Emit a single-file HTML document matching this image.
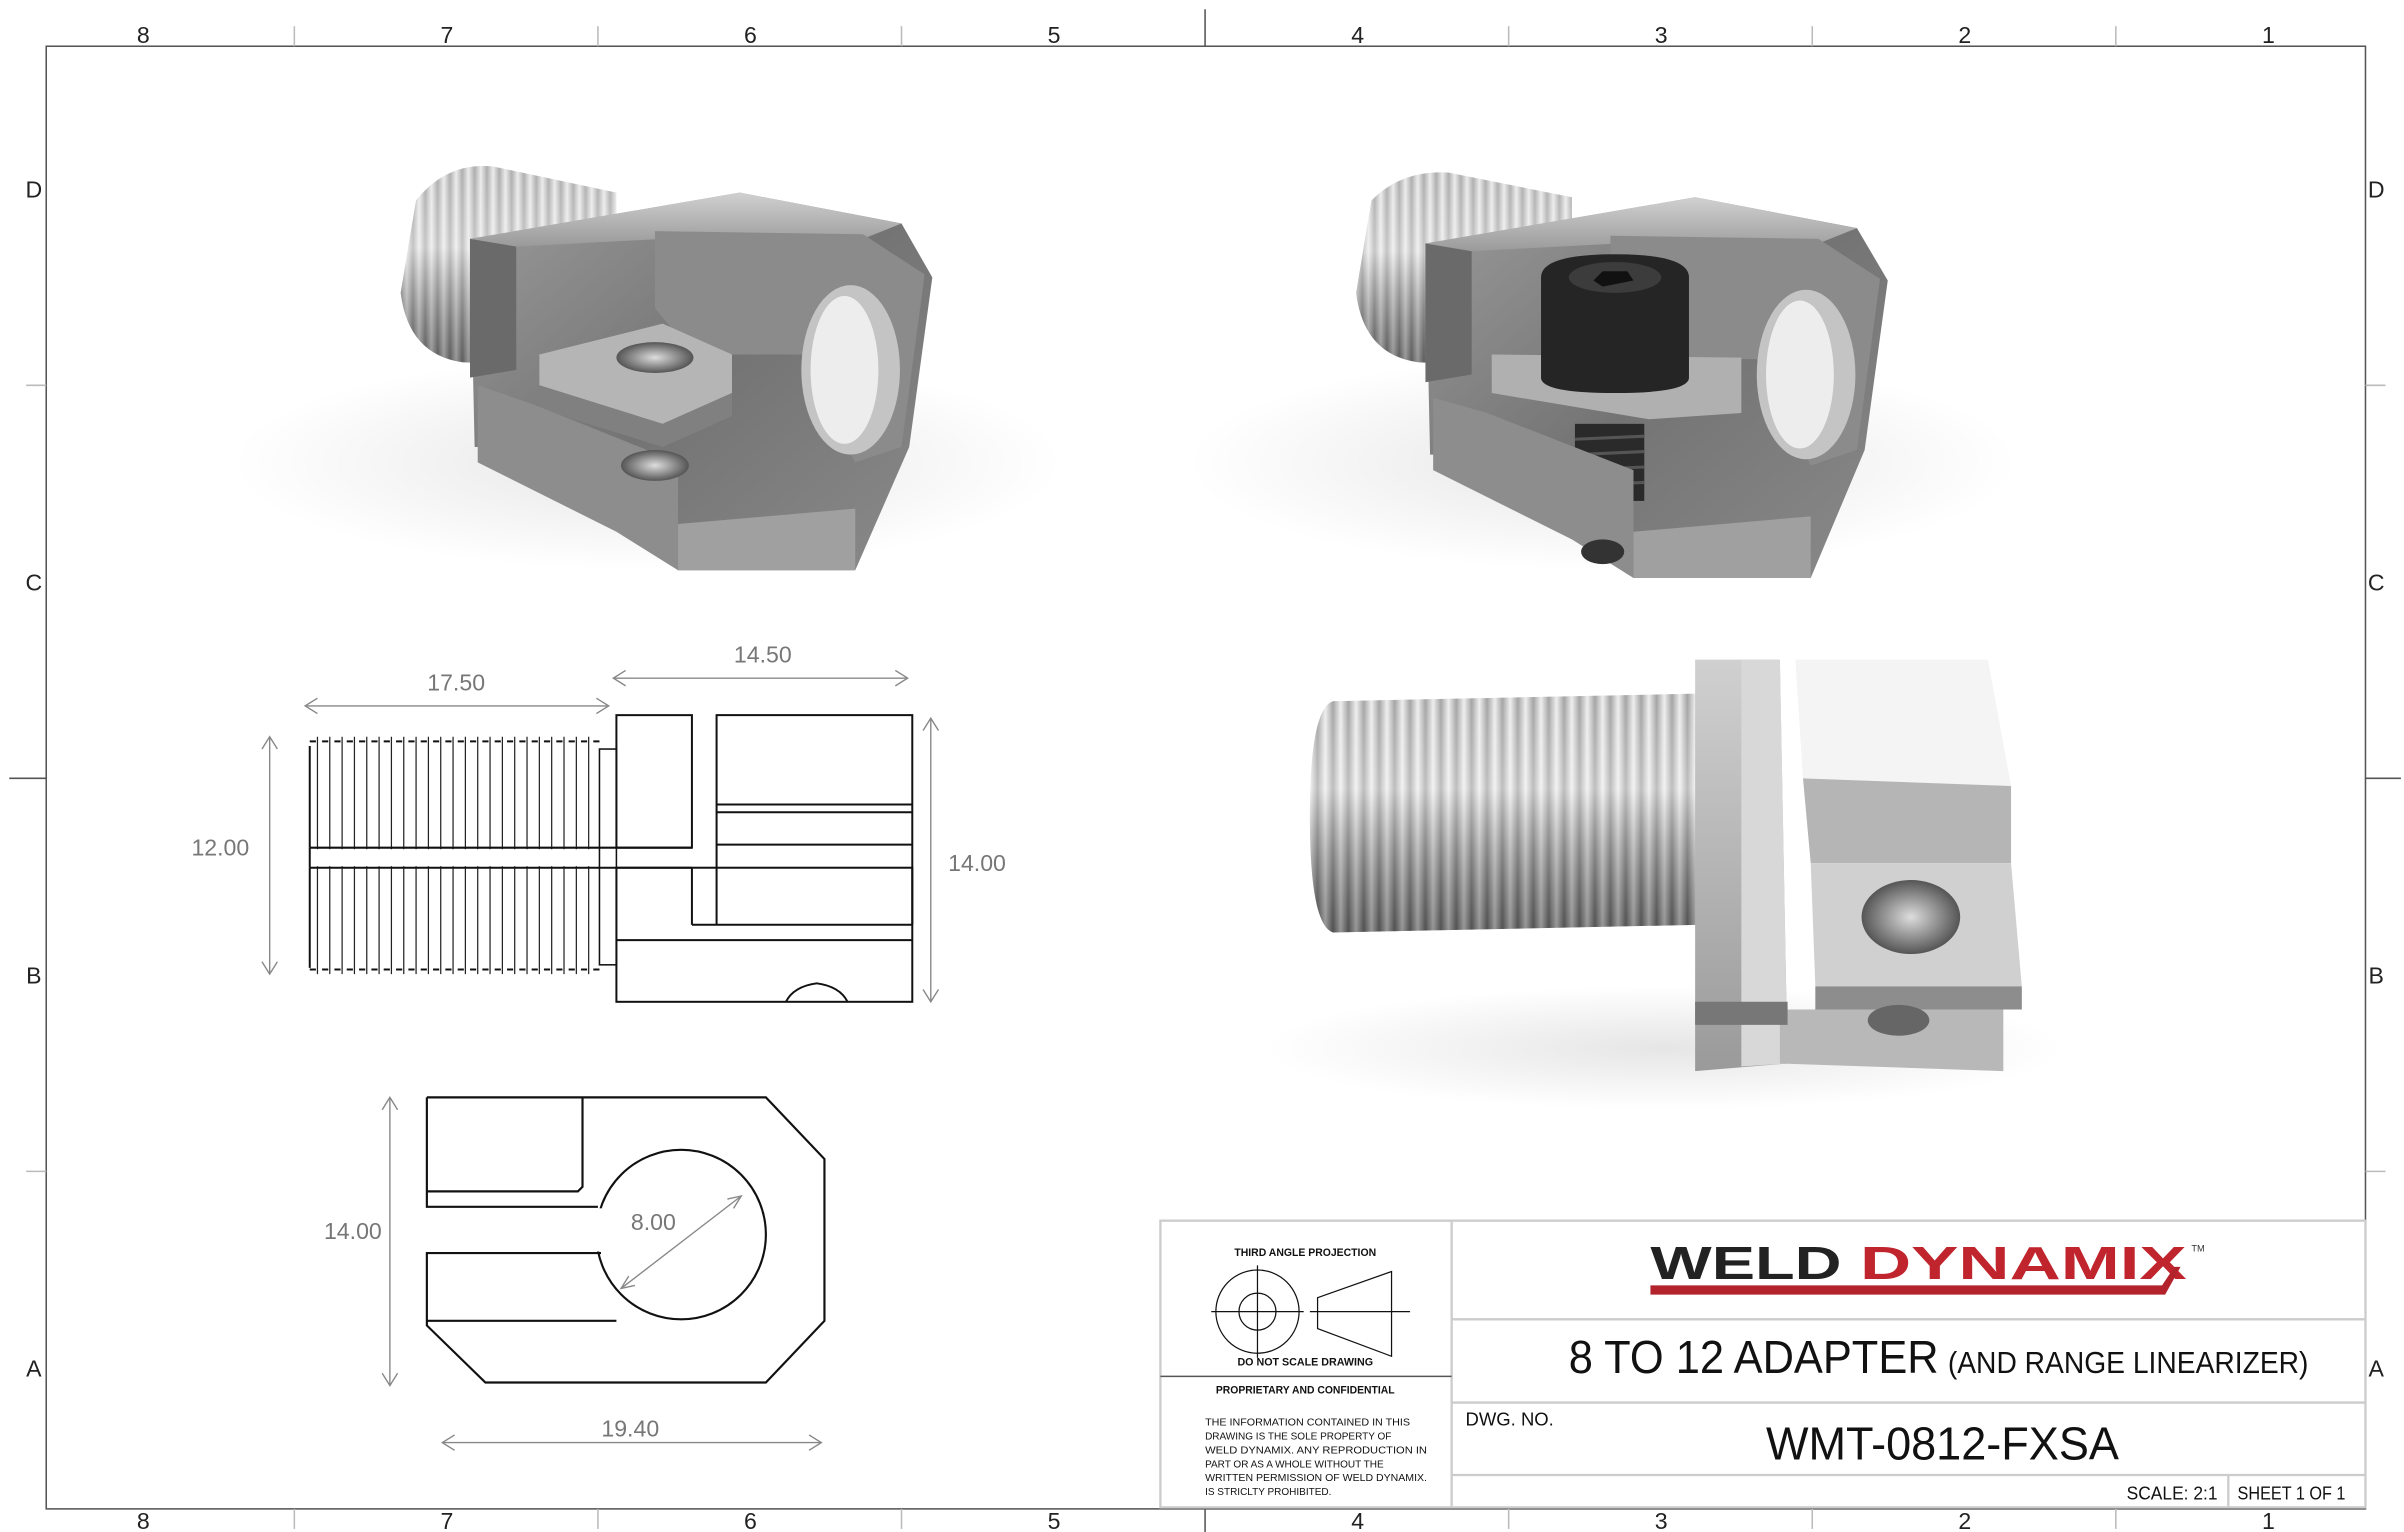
<!DOCTYPE html>
<html><head><meta charset="utf-8"><style>
html,body{margin:0;padding:0;background:#fff;}
svg{display:block;}
text{font-family:"Liberation Sans",sans-serif;}
</style></head><body>
<svg width="2404" height="1532" viewBox="0 0 1560 994" preserveAspectRatio="none" xmlns="http://www.w3.org/2000/svg">
<defs>
<linearGradient id="thr" x1="0" y1="0" x2="1" y2="0" spreadMethod="repeat" gradientUnits="userSpaceOnUse" gradientTransform="scale(8)">
<stop offset="0" stop-color="#e2e2e2"/><stop offset="0.5" stop-color="#8a8a8a"/><stop offset="1" stop-color="#e2e2e2"/></linearGradient>
<linearGradient id="thrv" x1="0" y1="0" x2="0" y2="1"><stop offset="0" stop-color="#fff" stop-opacity="0.3"/><stop offset="0.4" stop-color="#fff" stop-opacity="0.5"/><stop offset="1" stop-color="#000" stop-opacity="0.35"/></linearGradient>
<linearGradient id="met" x1="0" y1="0" x2="1" y2="1"><stop offset="0" stop-color="#9a9a9a"/><stop offset="0.5" stop-color="#747474"/><stop offset="1" stop-color="#8a8a8a"/></linearGradient>
<linearGradient id="metl" x1="0" y1="0" x2="0" y2="1"><stop offset="0" stop-color="#d0d0d0"/><stop offset="1" stop-color="#9a9a9a"/></linearGradient>
<radialGradient id="hole"><stop offset="0" stop-color="#ddd"/><stop offset="1" stop-color="#555"/></radialGradient>
<radialGradient id="shd"><stop offset="0" stop-color="#000" stop-opacity="0.10"/><stop offset="1" stop-color="#000" stop-opacity="0"/></radialGradient>
<linearGradient id="thr2" x1="0" y1="0" x2="1" y2="0" spreadMethod="repeat" gradientUnits="userSpaceOnUse" gradientTransform="scale(10)">
<stop offset="0" stop-color="#e6e6e6"/><stop offset="0.5" stop-color="#7c7c7c"/><stop offset="1" stop-color="#e6e6e6"/></linearGradient>
</defs>
<rect width="1560" height="994" fill="#fff"/>
<rect x="30" y="30" width="1505" height="949" fill="none" stroke="#555" stroke-width="1"/>
<g stroke="#bbb" stroke-width="1">
<line x1="191" y1="17" x2="191" y2="30"/><line x1="388" y1="17" x2="388" y2="30"/><line x1="585" y1="17" x2="585" y2="30"/><line x1="979" y1="17" x2="979" y2="30"/><line x1="1176" y1="17" x2="1176" y2="30"/><line x1="1373" y1="17" x2="1373" y2="30"/>
<line x1="191" y1="979" x2="191" y2="992"/><line x1="388" y1="979" x2="388" y2="992"/><line x1="585" y1="979" x2="585" y2="992"/><line x1="979" y1="979" x2="979" y2="992"/><line x1="1176" y1="979" x2="1176" y2="992"/><line x1="1373" y1="979" x2="1373" y2="992"/>
<line x1="17" y1="250" x2="30" y2="250"/><line x1="17" y1="760" x2="30" y2="760"/><line x1="1535" y1="250" x2="1548" y2="250"/><line x1="1535" y1="760" x2="1548" y2="760"/>
</g>
<g stroke="#555" stroke-width="1"><line x1="782" y1="6" x2="782" y2="30"/><line x1="782" y1="979" x2="782" y2="998"/><line x1="6" y1="505" x2="30" y2="505"/><line x1="1535" y1="505" x2="1558" y2="505"/></g>
<g font-size="15" fill="#222" text-anchor="middle">
<text x="93" y="28">8</text><text x="290" y="28">7</text><text x="487" y="28">6</text><text x="684" y="28">5</text><text x="881" y="28">4</text><text x="1078" y="28">3</text><text x="1275" y="28">2</text><text x="1472" y="28">1</text>
<text x="93" y="992">8</text><text x="290" y="992">7</text><text x="487" y="992">6</text><text x="684" y="992">5</text><text x="881" y="992">4</text><text x="1078" y="992">3</text><text x="1275" y="992">2</text><text x="1472" y="992">1</text>
<text x="22" y="128">D</text><text x="22" y="383">C</text><text x="22" y="638">B</text><text x="22" y="893">A</text>
<text x="1542" y="128">D</text><text x="1542" y="383">C</text><text x="1542" y="638">B</text><text x="1542" y="893">A</text>
</g>

<!-- 3D render top-left -->
<g>
<ellipse cx="420" cy="300" rx="270" ry="70" fill="url(#shd)"/>
<path d="M270 130 Q290 105 320 108 L400 125 L400 240 L300 235 Q265 230 260 190 Z" fill="url(#thr)"/>
<path d="M270 130 Q290 105 320 108 L400 125 L400 240 L300 235 Q265 230 260 190 Z" fill="url(#thrv)"/>
<polygon points="305,155 480,125 585,145 605,180 590,290 555,370 440,370 345,290 308,290" fill="url(#met)"/>
<polygon points="305,155 480,125 585,145 560,155 430,155 335,160" fill="url(#metl)"/>
<polygon points="425,150 560,152 600,178 585,290 555,300 520,230 450,230 425,200" fill="#8b8b8b"/>
<ellipse cx="552" cy="240" rx="32" ry="55" fill="#c4c4c4"/>
<ellipse cx="548" cy="240" rx="22" ry="48" fill="#ededed"/>
<polygon points="350,230 430,210 475,230 475,255 430,275 350,250" fill="#b5b5b5"/>
<polygon points="350,250 430,275 475,255 475,270 430,290 350,265" fill="#808080"/>
<ellipse cx="425" cy="232" rx="25" ry="10" fill="url(#hole)"/>
<polygon points="310,250 345,262 440,300 440,370 400,345 310,300" fill="#8d8d8d"/>
<ellipse cx="425" cy="302" rx="22" ry="10" fill="url(#hole)"/>
<polygon points="440,340 555,330 555,370 440,370" fill="#a0a0a0"/>
<polygon points="305,155 335,160 335,240 305,245" fill="#6a6a6a"/>
</g>

<!-- 3D render top-right -->
<g>
<ellipse cx="1040" cy="300" rx="270" ry="70" fill="url(#shd)"/>
<path d="M890 130 Q910 110 940 112 L1020 128 L1020 240 L920 235 Q885 230 880 190 Z" fill="url(#thr)"/>
<path d="M890 130 Q910 110 940 112 L1020 128 L1020 240 L920 235 Q885 230 880 190 Z" fill="url(#thrv)"/>
<polygon points="925,158 1100,128 1205,148 1225,182 1210,292 1175,375 1060,375 965,295 928,295" fill="url(#met)"/>
<polygon points="925,158 1100,128 1205,148 1180,158 1050,158 955,163" fill="url(#metl)"/>
<polygon points="1045,153 1180,155 1220,181 1205,292 1175,302 1140,233 1070,233 1045,203" fill="#8b8b8b"/>
<ellipse cx="1172" cy="243" rx="32" ry="55" fill="#c4c4c4"/>
<ellipse cx="1168" cy="243" rx="22" ry="48" fill="#ededed"/>
<polygon points="968,230 1130,232 1130,268 1070,272 968,255" fill="#b0b0b0"/>
<path d="M1000 180 Q1000 165 1048 165 Q1096 165 1096 180 L1096 245 Q1096 255 1048 255 Q1000 255 1000 245 Z" fill="#252525"/>
<ellipse cx="1048" cy="180" rx="30" ry="10" fill="#3c3c3c"/>
<polygon points="1040,176 1056,176 1060,182 1040,186 1034,182" fill="#111"/>
<rect x="1022" y="275" width="45" height="50" fill="#2a2a2a"/>
<g stroke="#555" stroke-width="2"><line x1="1022" y1="285" x2="1067" y2="283"/><line x1="1022" y1="295" x2="1067" y2="293"/><line x1="1022" y1="305" x2="1067" y2="303"/><line x1="1022" y1="315" x2="1067" y2="313"/></g>
<polygon points="930,258 965,268 1060,305 1060,375 1020,350 930,305" fill="#8d8d8d"/>
<polygon points="1060,345 1175,335 1175,375 1060,375" fill="#a0a0a0"/>
<ellipse cx="1040" cy="358" rx="14" ry="8" fill="#333"/>
<polygon points="925,158 955,163 955,243 925,248" fill="#6a6a6a"/>
</g>

<!-- 3D render bottom-right -->
<g>
<ellipse cx="1080" cy="680" rx="260" ry="40" fill="url(#shd)"/>
<path d="M865 455 L1105 450 L1105 600 L865 605 Q850 600 850 530 Q850 460 865 455 Z" fill="url(#thr2)"/>
<path d="M865 455 L1105 450 L1105 600 L865 605 Q850 600 850 530 Q850 460 865 455 Z" fill="url(#thrv)"/>
<polygon points="1100,428 1155,428 1160,690 1100,695" fill="url(#metl)"/>
<polygon points="1130,428 1155,428 1160,690 1130,692" fill="#d8d8d8"/>
<polygon points="1165,428 1290,428 1305,510 1170,505" fill="#f4f4f4"/>
<polygon points="1170,505 1305,510 1305,560 1175,560" fill="#b5b5b5"/>
<polygon points="1175,560 1305,560 1312,640 1178,640" fill="#d0d0d0"/>
<ellipse cx="1240" cy="595" rx="32" ry="24" fill="url(#hole)"/>
<polygon points="1178,640 1312,640 1312,655 1178,655" fill="#8d8d8d"/>
<polygon points="1155,655 1300,655 1300,695 1155,690" fill="#b8b8b8"/>
<ellipse cx="1232" cy="662" rx="20" ry="10" fill="#666"/>
<polygon points="1100,650 1160,650 1160,665 1100,665" fill="#777"/>
</g>

<!-- Side view drawing -->
<g stroke="#222" stroke-width="0.8">
<line x1="206" y1="478" x2="206" y2="632"/><line x1="214" y1="478" x2="214" y2="632"/><line x1="222" y1="478" x2="222" y2="632"/><line x1="230" y1="478" x2="230" y2="632"/><line x1="238" y1="478" x2="238" y2="632"/><line x1="246" y1="478" x2="246" y2="632"/><line x1="254" y1="478" x2="254" y2="632"/><line x1="262" y1="478" x2="262" y2="632"/><line x1="270" y1="478" x2="270" y2="632"/><line x1="278" y1="478" x2="278" y2="632"/><line x1="286" y1="478" x2="286" y2="632"/><line x1="294" y1="478" x2="294" y2="632"/><line x1="302" y1="478" x2="302" y2="632"/><line x1="310" y1="478" x2="310" y2="632"/><line x1="318" y1="478" x2="318" y2="632"/><line x1="326" y1="478" x2="326" y2="632"/><line x1="334" y1="478" x2="334" y2="632"/><line x1="342" y1="478" x2="342" y2="632"/><line x1="350" y1="478" x2="350" y2="632"/><line x1="358" y1="478" x2="358" y2="632"/><line x1="366" y1="478" x2="366" y2="632"/><line x1="374" y1="478" x2="374" y2="632"/><line x1="382" y1="478" x2="382" y2="632"/>
</g>
<rect x="202" y="551" width="246" height="11" fill="#fff"/>
<g fill="none" stroke="#111" stroke-width="1.3">
<path d="M201 484 L201 550 M201 563 L201 628"/>
<path d="M201 481 L389 481 M201 629 L389 629" stroke-dasharray="4 4"/>
<rect x="389" y="486" width="11" height="140" stroke-width="1"/>
<line x1="201" y1="550" x2="449" y2="550"/>
<line x1="201" y1="563" x2="449" y2="563"/>
<line x1="201" y1="550" x2="201" y2="563"/>
<rect x="400" y="464" width="49" height="86"/>
<line x1="449" y1="563" x2="449" y2="600"/>
<line x1="449" y1="600" x2="592" y2="600"/>
<path d="M465 600 L465 464 L592 464 L592 600"/>
<line x1="465" y1="522" x2="592" y2="522"/><line x1="465" y1="527" x2="592" y2="527"/><line x1="465" y1="548" x2="592" y2="548"/>
<rect x="400" y="563" width="192" height="87"/>
<line x1="400" y1="610" x2="592" y2="610"/>
<path d="M510 650 Q515 640 530 638 Q545 640 550 650" />
</g>
<!-- front view drawing -->
<g fill="none" stroke="#111" stroke-width="1.4">
<path d="M277 712 L497 712 L535 752 L535 857 L497 897 L315 897 L277 860 L277 813 L390 813 M277 712 L277 783 L388 783"/>
<path d="M277 773 L375 773 L378 770 L378 712"/>
<path d="M277 857 L400 857"/>
<circle cx="442" cy="801" r="55"/>
</g>
<rect x="380" y="784" width="12" height="28" fill="#fff"/>
<!-- dimensions -->
<g stroke="#888" stroke-width="0.9" fill="none">
<line x1="198" y1="458" x2="395" y2="458"/><path d="M206 453 L198 458 L206 463 M387 453 L395 458 L387 463"/>
<line x1="398" y1="440" x2="589" y2="440"/><path d="M406 435 L398 440 L406 445 M581 435 L589 440 L581 445"/>
<line x1="175" y1="478" x2="175" y2="632"/><path d="M170 486 L175 478 L180 486 M170 624 L175 632 L180 624"/>
<line x1="604" y1="466" x2="604" y2="650"/><path d="M599 474 L604 466 L609 474 M599 642 L604 650 L609 642"/>
<line x1="253" y1="712" x2="253" y2="899"/><path d="M248 720 L253 712 L258 720 M248 891 L253 899 L258 891"/>
<line x1="287" y1="936" x2="533" y2="936"/><path d="M295 931 L287 936 L295 941 M525 931 L533 936 L525 941"/>
<line x1="403" y1="836" x2="481" y2="776"/><path d="M408 828 L403 836 L412 834 M472 778 L481 776 L476 784"/>
</g>
<g font-size="15" fill="#777" text-anchor="middle">
<text x="296" y="448">17.50</text><text x="495" y="430">14.50</text><text x="143" y="555">12.00</text><text x="634" y="565">14.00</text>
<text x="229" y="804">14.00</text><text x="409" y="932">19.40</text><text x="424" y="798">8.00</text>
</g>

<!-- title block -->
<g stroke="#ccc" stroke-width="1.5" fill="none">
<rect x="753" y="792" width="782" height="186"/>
<line x1="942" y1="792" x2="942" y2="978"/>
<line x1="942" y1="856" x2="1535" y2="856"/><line x1="942" y1="910" x2="1535" y2="910"/><line x1="942" y1="957" x2="1535" y2="957"/>
<line x1="1446" y1="957" x2="1446" y2="978"/>
</g>
<line x1="753" y1="893" x2="942" y2="893" stroke="#555" stroke-width="1"/>
<g font-size="7" fill="#111" text-anchor="middle" font-weight="bold">
<text x="847" y="815" textLength="92" lengthAdjust="spacingAndGlyphs">THIRD ANGLE PROJECTION</text>
<text x="847" y="886" textLength="88" lengthAdjust="spacingAndGlyphs">DO NOT SCALE DRAWING</text>
<text x="847" y="904" textLength="116" lengthAdjust="spacingAndGlyphs">PROPRIETARY AND CONFIDENTIAL</text>
</g>
<g fill="none" stroke="#111" stroke-width="0.8">
<circle cx="816" cy="851" r="27"/><circle cx="816" cy="851" r="12"/>
<line x1="786" y1="851" x2="846" y2="851"/><line x1="816" y1="821" x2="816" y2="881"/>
<polygon points="855,842 903,825 903,880 855,862"/><line x1="850" y1="851" x2="915" y2="851"/>
</g>
<g font-size="6.5" fill="#111">
<text x="782" y="925" textLength="133" lengthAdjust="spacingAndGlyphs">THE INFORMATION CONTAINED IN THIS</text>
<text x="782" y="934">DRAWING IS THE SOLE PROPERTY OF</text>
<text x="782" y="943" textLength="144" lengthAdjust="spacingAndGlyphs">WELD DYNAMIX.  ANY REPRODUCTION IN</text>
<text x="782" y="952">PART OR AS A WHOLE WITHOUT THE</text>
<text x="782" y="961" textLength="144" lengthAdjust="spacingAndGlyphs">WRITTEN PERMISSION OF WELD DYNAMIX.</text>
<text x="782" y="970">IS STRICLTY PROHIBITED.</text>
</g>
<text x="1071" y="830" font-size="30" font-weight="bold" fill="#222" textLength="124" lengthAdjust="spacingAndGlyphs">WELD</text>
<text x="1207" y="830" font-size="30" font-weight="bold" fill="#c0242d" textLength="212" lengthAdjust="spacingAndGlyphs">DYNAMIX</text>
<text x="1422" y="812" font-size="6" fill="#333">TM</text>
<polygon points="1071,834 1403,834 1411,822 1415,822 1405,840 1071,840" fill="#b3232b"/>
<text x="1018" y="891" font-size="30" fill="#111" textLength="240" lengthAdjust="spacingAndGlyphs">8 TO 12 ADAPTER</text>
<text x="1264" y="891" font-size="20" fill="#111" textLength="234" lengthAdjust="spacingAndGlyphs">(AND RANGE LINEARIZER)</text>
<text x="951" y="925" font-size="12" fill="#111">DWG.  NO.</text>
<text x="1146" y="947" font-size="30" fill="#111" textLength="229" lengthAdjust="spacingAndGlyphs">WMT-0812-FXSA</text>
<text x="1380" y="973" font-size="12" fill="#111" textLength="59" lengthAdjust="spacingAndGlyphs">SCALE: 2:1</text>
<text x="1452" y="973" font-size="12" fill="#111" textLength="70" lengthAdjust="spacingAndGlyphs">SHEET 1 OF 1</text>
</svg>
</body></html>
